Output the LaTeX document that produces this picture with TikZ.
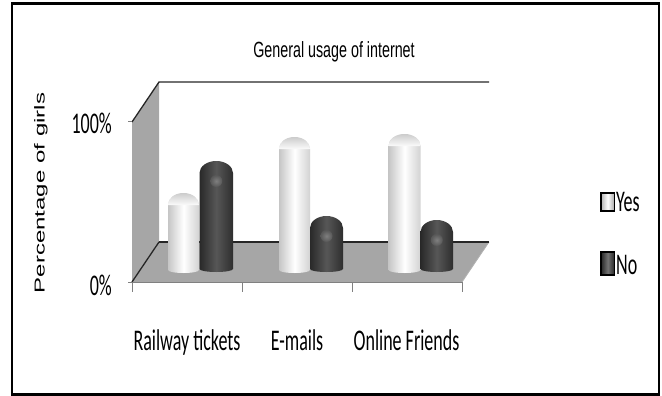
\documentclass[tikz,border=0pt]{standalone}
\usepackage{fontspec}
\setmainfont{Carlito}
\newfontfamily\calnar[FakeStretch=0.6]{Carlito}
\newfontfamily\arinar[FakeStretch=0.65]{Liberation Sans}
\newfontfamily\arireg{Liberation Sans}
\definecolor{wallgray}{RGB}{166,166,166}
\definecolor{edgegray}{RGB}{128,128,128}
\newcommand\cylbar[5]{%
  \pgfmathsetmacro\cbr{(#3-#2)/2}%
  \path[#1] (#2,#5) -- (#2,#4+12) arc[start angle=180,end angle=360,x radius=\cbr,y radius=12]
    -- (#3,#5) arc[start angle=0,end angle=180,x radius=\cbr,y radius=3] -- cycle;
}
\newcommand\cyldome[4]{%
  \pgfmathsetmacro\cbr{(#3-#2)/2}%
  \path[#1] (#2,#4+12) arc[start angle=180,end angle=360,x radius=\cbr,y radius=12] -- cycle;
}
\begin{document}
\begin{tikzpicture}[x=1pt,y=-1pt,
  bigtext/.style={font=\calnar\fontsize{30}{30}\selectfont, inner sep=0pt},
  cattext/.style={bigtext, anchor=base},
  axtext/.style={bigtext, anchor=base east},
  legtext/.style={bigtext, anchor=base west},
  yesbar/.style={left color=gray!45, right color=gray!35, middle color=white},
  yesdome/.style={top color=gray!40, bottom color=gray!3},
  nobar/.style={left color=black!84, right color=black!82, middle color=black!66},
  darkedge/.style={draw=black!85, line width=1.3pt},
  tick/.style={draw=edgegray, line width=1pt}]
\useasboundingbox (0,0) rectangle (662,396);
% frame
\draw[line width=2.5pt, black] (12,3.5) rectangle (659,394.5);
% title
\node[font=\arinar\fontsize{22}{22}\selectfont, inner sep=0pt, anchor=base] (title) at (334,58) {General usage of internet};
% y label
\node[rotate=90, inner sep=0pt] (ylab) at (41,193) {\scalebox{1}[0.6]{\arireg\fontsize{24}{24}\selectfont Percentage of girls}};
% side wall
\fill[wallgray] (132,122) -- (159,82) -- (159,242) -- (132,282) -- cycle;
% floor
\fill[wallgray] (132,282) -- (159,242) -- (489,242) -- (462,282) -- cycle;
\draw[draw=gray!60, line width=0.8pt] (462,282) -- (489,242);
\draw[darkedge] (159,242) -- (489,242);
\draw[darkedge] (132,282) -- (159,242);
\draw[darkedge] (132,122) -- (159,82) -- (489,82);
% axis lines and ticks
\draw[tick] (132,282) -- (462,282);
\draw[tick] (128,122) -- (132,122);
\draw[tick] (128,282) -- (132,282);
\foreach \tx in {132,242,352,462} \draw[tick] (\tx,282) -- (\tx,292);
% axis labels
\node[axtext] (p100) at (112,133) {100\%};
\node[axtext] (p0) at (112,295) {0\%};
% bars
\cylbar{yesbar}{168}{199}{193}{270}
\cyldome{yesdome}{168}{199}{193}
\cylbar{nobar}{199.5}{233}{161}{269}
\shade[inner color=black!50, outer color=black!66] (216.25,181) circle[radius=6];
\cylbar{yesbar}{279}{310}{137}{270}
\cyldome{yesdome}{279}{310}{137}
\cylbar{nobar}{310}{343}{216}{269}
\shade[inner color=black!50, outer color=black!66] (326.5,236) circle[radius=6];
\cylbar{yesbar}{388.5}{420.5}{134}{270}
\cyldome{yesdome}{388.5}{420.5}{134}
\cylbar{nobar}{420.5}{453}{220}{269}
\shade[inner color=black!50, outer color=black!66] (436.75,240) circle[radius=6];
% category labels
\node[cattext] (c1) at (187,350) {Railway tickets};
\node[cattext] (c2) at (297,350) {E-mails};
\node[cattext] (c3) at (406.5,350) {Online Friends};
% legend
\draw[line width=1.8pt, black, left color=gray!60, right color=gray!70, middle color=white] (601,193) rectangle (614.5,211) node (kyes) {};
\node[legtext] (lyes) at (616,211) {Yes};
\draw[line width=1.8pt, black, left color=black!85, right color=black!85, middle color=black!55] (601,252) rectangle (614.5,275) node (kno) {};
\node[legtext] (lno) at (616,274) {No};
\end{tikzpicture}
\end{document}
